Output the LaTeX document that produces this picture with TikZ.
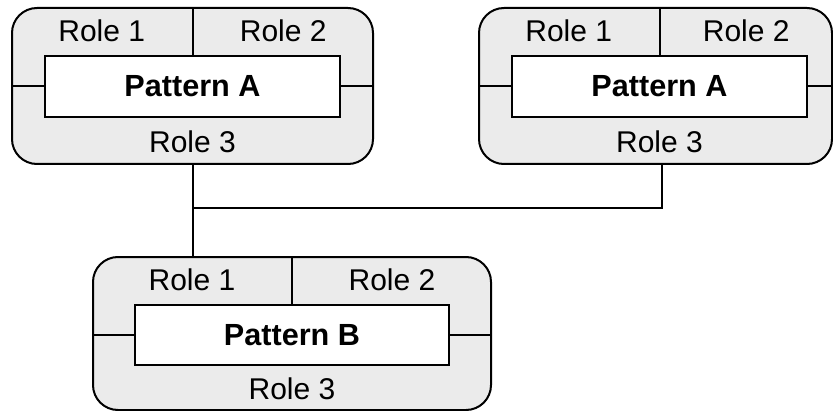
\documentclass[tikz,border=0pt]{standalone}
\usepackage{fontspec}
\setmainfont{Liberation Sans}
\usetikzlibrary{positioning,calc}

\definecolor{groupgray}{RGB}{235,235,235}

\tikzset{
  group/.style={rectangle, draw, rounded corners=12.5pt, fill=groupgray, inner sep=0pt},
  pattern/.style={rectangle, draw, fill=white, inner sep=0pt, font=\fontsize{15.3}{17}\selectfont\bfseries},
  role/.style={inner sep=0pt, font=\fontsize{15}{17}\selectfont},
}

\begin{document}
\begin{tikzpicture}[x=0.5pt, y=-0.5pt, line width=1pt]
  \useasboundingbox (0,0) rectangle (833,411);
  % first pattern A
  \node (a1) at (192.5,86) [group, minimum width=180.5pt, minimum height=78pt] {};
  \node (p1) at (192.5,86.5) [pattern, minimum width=147.5pt, minimum height=30.5pt] {Pattern A};
  \draw (p1.north) -- (p1.north |- a1.north);
  \draw (a1.west |- p1.west) -- (p1.west);
  \draw (p1.east) -- (p1.east -| a1.east);
  \node (a1r1) at ($(a1.north west)!0.5!(p1.north)$) [role] {Role 1};
  \node (a1r2) at ($(a1.north east)!0.5!(p1.north)$) [role] {Role 2};
  \node (a1r3) at ($(a1.south)!0.5!(p1.south)$) [role] {Role 3};
  % second pattern A
  \node (a2) at (655.5,86) [group, minimum width=176.5pt, minimum height=78pt] {};
  \node (p2) at (659.5,86.5) [pattern, minimum width=147.5pt, minimum height=30.5pt] {Pattern A};
  \draw (p2.north) -- (p2.north |- a2.north);
  \draw (a2.west |- p2.west) -- (p2.west);
  \draw (p2.east) -- (p2.east -| a2.east);
  \node (a2r1) at ($(a2.north west)!0.5!(p2.north)$) [role] {Role 1};
  \node (a2r2) at ($(a2.north east)!0.5!(p2.north)$) [role] {Role 2};
  \node (a2r3) at ($(a2.south -| p2.north)!0.5!(p2.south)$) [role] {Role 3};
  % pattern B
  \node (b) at (292,333.5) [group, minimum width=199pt, minimum height=76.5pt] {};
  \node (pb) at (292,335) [pattern, minimum width=157pt, minimum height=30pt] {Pattern B};
  \draw (pb.north) -- (pb.north |- b.north);
  \draw (b.west |- pb.west) -- (pb.west);
  \draw (pb.east) -- (pb.east -| b.east);
  \node (br1) at ($(b.north west)!0.5!(pb.north)$) [role] {Role 1};
  \node (br2) at ($(b.north east)!0.5!(pb.north)$) [role] {Role 2};
  \node (br3) at ($(b.south)!0.5!(pb.south)$) [role] {Role 3};
  % links
  \coordinate (bus) at (192.5,208);
  \draw (a1.south) -- (a1.south |- b.north);
  \draw (bus) -| ([xshift=3.25pt]a2.south);
\end{tikzpicture}
\end{document}
